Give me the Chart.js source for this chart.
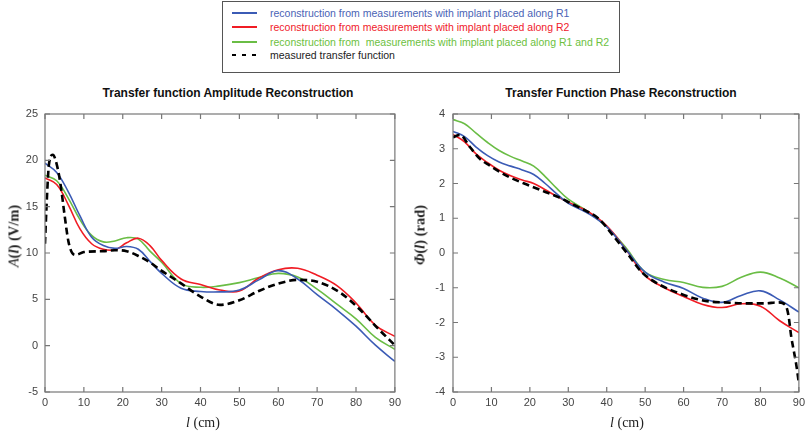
<!DOCTYPE html>
<html>
<head>
<meta charset="utf-8">
<script src="https://cdn.jsdelivr.net/npm/chart.js@4.4.1/dist/chart.umd.min.js"></script>
<style>
  body { margin: 0; width: 809px; height: 436px; position: relative; overflow: hidden; background: #fff;
         font-family: "Liberation Sans", Arial, sans-serif; }
  .legend-box { position: absolute; left: 222px; top: 1px; width: 398px; height: 72px;
                border: 1px solid #555; box-sizing: border-box; }
  .lg-row { position: absolute; left: 232px; height: 14px; font-size: 10.5px; line-height: 14px; white-space: pre; }
  .lg-line { position: absolute; left: 0; top: 6px; width: 25px; height: 2px; }
  .lg-text { position: absolute; left: 38px; top: 0; }
  .plot { position: absolute; top: 80px; height: 356px; }
  .ttl { position: absolute; top: 86px; font-weight: bold; font-size: 12px; color: #111;
         transform: translateX(-50%); white-space: nowrap; }
  .xt { position: absolute; top: 415px; font-family: "Liberation Serif", "Times New Roman", serif;
        font-size: 14px; color: #222; transform: translateX(-50%); white-space: nowrap; }
  .yt { position: absolute; font-family: "Liberation Serif", "Times New Roman", serif; font-size: 14.5px;
        font-weight: bold; color: #222; white-space: nowrap; transform: translate(-50%, -50%) rotate(-90deg); }
  i { font-style: italic; }
</style>
</head>
<body>

<div class="legend-box"></div>
<div class="lg-row" style="top:6px"><span class="lg-line" style="background:#3b5bb5"></span><span class="lg-text" style="color:#4a63b5">reconstruction from measurements with implant placed along R1</span></div>
<div class="lg-row" style="top:20px"><span class="lg-line" style="background:#f01c24"></span><span class="lg-text" style="color:#f0202a">reconstruction from measurements with implant placed along R2</span></div>
<div class="lg-row" style="top:35px"><span class="lg-line" style="background:#6abd45"></span><span class="lg-text" style="color:#6cbf40">reconstruction from  measurements with implant placed along R1 and R2</span></div>
<div class="lg-row" style="top:48px"><span class="lg-line" style="background:repeating-linear-gradient(to right,#000 0 4px,transparent 4px 10px)"></span><span class="lg-text" style="color:#222">measured transfer function</span></div>

<div class="ttl" style="left:228px">Transfer function Amplitude Reconstruction</div>
<div class="ttl" style="left:621px">Transfer Function Phase Reconstruction</div>

<div class="plot" style="left:0;width:405px"><canvas id="ampChart" width="405" height="356"></canvas></div>
<div class="plot" style="left:405px;width:404px"><canvas id="phaseChart" width="404" height="356"></canvas></div>

<div class="xt" style="left:203px"><i>l</i> (cm)</div>
<div class="xt" style="left:627px"><i>l</i> (cm)</div>
<div class="yt" style="left:14px;top:236px"><i style="font-weight:normal">A</i>(<i>l</i>) (V/m)</div>
<div class="yt" style="left:420px;top:235px"><i>Φ</i>(<i>l</i>) (rad)</div>

<script>
// ---- data ----
const lengthCm = [0, 3, 6, 9, 12, 15, 18, 21, 24, 27, 30, 35, 40, 45, 50, 55, 60, 65, 70, 75, 80, 85, 90];

// amplitude A(l) in V/m
const ampR1   = [19.7, 18.7, 16.6, 14.0, 11.7, 10.8, 10.5, 10.7, 10.4, 9.1, 7.8, 6.2, 5.85, 5.8, 6.0, 7.1, 8.1, 7.2, 5.5, 3.9, 2.1, 0.05, -1.7];
const ampR2   = [18.1, 17.4, 15.2, 12.6, 11.0, 10.4, 10.35, 11.1, 11.6, 10.8, 9.2, 7.2, 6.6, 6.0, 5.9, 7.3, 8.2, 8.35, 7.6, 6.5, 4.6, 2.2, 1.0];
const ampR1R2 = [18.4, 17.8, 15.9, 13.6, 11.9, 11.2, 11.3, 11.65, 11.5, 10.2, 9.0, 6.7, 6.3, 6.45, 6.8, 7.35, 7.8, 7.4, 6.1, 4.5, 2.9, 0.9, -0.4];

const ampMeasX = [0, 0.5, 1, 2, 3, 4, 5, 6, 7, 8, 10, 15, 18, 21, 24.4, 27, 29.6, 34.7, 40, 45, 50, 55, 60, 65, 70, 76, 81, 86, 90];
const ampMeasY = [11, 16, 19.5, 20.6, 19.6, 17.4, 14.2, 11.3, 10.0, 9.8, 10.1, 10.2, 10.3, 10.2, 9.6, 9.0, 8.2, 6.8, 5.3, 4.4, 4.9, 5.9, 6.7, 7.1, 6.9, 5.7, 3.9, 1.7, 0.05];

// phase Phi(l) in rad
const phR1   = [3.5, 3.35, 3.05, 2.8, 2.62, 2.5, 2.39, 2.26, 2.0, 1.7, 1.43, 1.15, 0.75, 0.1, -0.55, -0.84, -1.02, -1.3, -1.42, -1.22, -1.09, -1.35, -1.7];
const phR2   = [3.41, 3.2, 2.85, 2.6, 2.38, 2.22, 2.1, 2.0, 1.82, 1.63, 1.46, 1.2, 0.78, 0.1, -0.65, -1.0, -1.25, -1.48, -1.57, -1.46, -1.53, -1.95, -2.29];
const phR1R2 = [3.84, 3.72, 3.45, 3.18, 2.95, 2.78, 2.65, 2.5, 2.2, 1.86, 1.55, 1.2, 0.75, 0.15, -0.55, -0.76, -0.85, -0.99, -0.96, -0.7, -0.55, -0.72, -1.0];

const phMeasX = [0, 1.8, 4.4, 7, 9.5, 14.7, 19.9, 24.2, 27.6, 31, 34.5, 38, 41.3, 45.6, 49.1, 53.4, 59.4, 63.7, 67.1, 70.6, 76.6, 80.9, 84.8, 86.5, 87.3, 88, 88.6, 89.3, 90];
const phMeasY = [3.33, 3.4, 3.05, 2.71, 2.52, 2.18, 1.94, 1.75, 1.6, 1.41, 1.22, 0.98, 0.55, -0.05, -0.55, -0.89, -1.18, -1.33, -1.4, -1.42, -1.45, -1.45, -1.42, -1.5, -1.8, -2.4, -2.77, -3.2, -3.75];

const xTicks = [0, 10, 20, 30, 40, 50, 60, 70, 80, 90];

// ---- helpers ----
const toPoints = (xs, ys) => xs.map((x, i) => ({ x: x, y: ys[i] }));

function recon(label, color, ys) {
  return {
    label: label,
    data: toPoints(lengthCm, ys),
    borderColor: color,
    borderWidth: 1.6,
    pointRadius: 0,
    tension: 0.4,
    fill: false,
    order: 1
  };
}

function measured(xs, ys) {
  return {
    label: 'measured transfer function',
    data: toPoints(xs, ys),
    borderColor: '#000',
    borderWidth: 2.6,
    borderDash: [7, 4],
    pointRadius: 0,
    cubicInterpolationMode: 'monotone',
    fill: false,
    order: 0
  };
}

// box around the plot area with inward tick marks on all four sides
const framePlugin = {
  id: 'frame',
  afterDraw(chart) {
    const { ctx, chartArea: a, scales } = chart;
    const len = 5;
    ctx.save();
    ctx.strokeStyle = '#777';
    ctx.lineWidth = 1.2;
    ctx.strokeRect(a.left, a.top, a.right - a.left, a.bottom - a.top);
    ctx.beginPath();
    scales.x.ticks.forEach(t => {
      const px = scales.x.getPixelForValue(t.value);
      ctx.moveTo(px, a.bottom); ctx.lineTo(px, a.bottom - len);
      ctx.moveTo(px, a.top); ctx.lineTo(px, a.top + len);
    });
    scales.y.ticks.forEach(t => {
      const py = scales.y.getPixelForValue(t.value);
      ctx.moveTo(a.left, py); ctx.lineTo(a.left + len, py);
      ctx.moveTo(a.right, py); ctx.lineTo(a.right - len, py);
    });
    ctx.stroke();
    ctx.restore();
  }
};

const tickFont = { family: '"Liberation Sans", Arial, sans-serif', size: 11 };

function makeChart(canvasId, datasets, yMin, yMax, yStep, yWidth, padRight, yPad) {
  return new Chart(document.getElementById(canvasId), {
    type: 'line',
    data: { datasets: datasets },
    plugins: [framePlugin],
    options: {
      responsive: false,
      animation: false,
      layout: { padding: { top: 34, right: padRight, left: 0, bottom: 0 } },
      plugins: { legend: { display: false }, tooltip: { enabled: false } },
      scales: {
        x: {
          type: 'linear',
          min: 0,
          max: 90,
          afterBuildTicks: scale => { scale.ticks = xTicks.map(v => ({ value: v })); },
          afterFit: scale => { scale.height = 44; },
          grid: { display: false, drawTicks: false },
          border: { display: false },
          ticks: { font: tickFont, color: '#444', padding: 4, maxRotation: 0 }
        },
        y: {
          min: yMin,
          max: yMax,
          afterFit: scale => { scale.width = yWidth; },
          grid: { display: false, drawTicks: false },
          border: { display: false },
          ticks: { stepSize: yStep, font: tickFont, color: '#444', padding: yPad }
        }
      }
    }
  });
}

makeChart('ampChart', [
  recon('R1', '#3b5bb5', ampR1),
  recon('R2', '#f01c24', ampR2),
  recon('R1 and R2', '#6abd45', ampR1R2),
  measured(ampMeasX, ampMeasY)
], -5, 25, 5, 45, 10, 7);

makeChart('phaseChart', [
  recon('R1', '#3b5bb5', phR1),
  recon('R2', '#f01c24', phR2),
  recon('R1 and R2', '#6abd45', phR1R2),
  measured(phMeasX, phMeasY)
], -4, 4, 1, 48, 7, 8);
</script>
</body>
</html>
